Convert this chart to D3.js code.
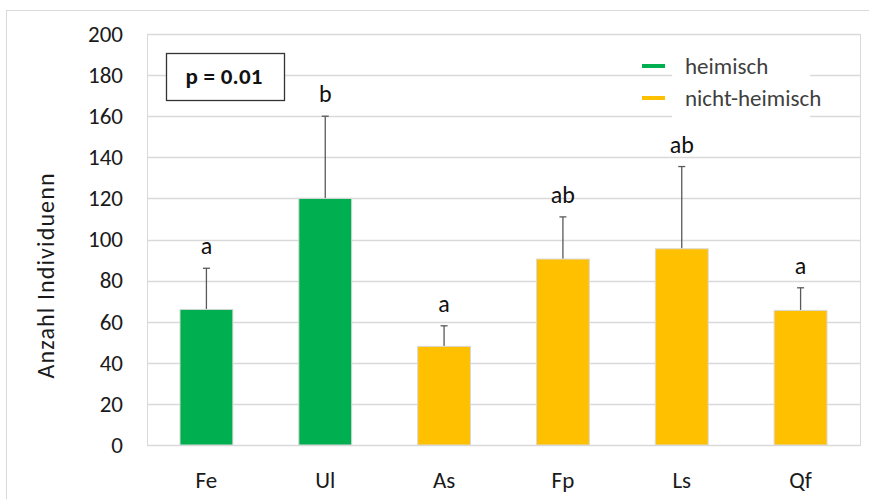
<!doctype html>
<html lang="de">
<head>
<meta charset="utf-8">
<title>Anzahl Individuen</title>
<script src="https://cdn.jsdelivr.net/npm/d3@7"></script>
<style>
  body { margin: 0; background: #fff; }
  text { font-family: Carlito, Lato, "Open Sans", sans-serif; }
</style>
</head>
<body>
<script>
// chart data
var categories = ["Fe", "Ul", "As", "Fp", "Ls", "Qf"];
var means = [66, 120, 48, 90.5, 95.5, 65.5];
var errors = [20, 40, 10, 20.5, 40, 11];
var groups = ["heimisch", "heimisch", "nicht-heimisch", "nicht-heimisch", "nicht-heimisch", "nicht-heimisch"];
var letters = ["a", "b", "a", "ab", "ab", "a"];
var yTicks = [0, 20, 40, 60, 80, 100, 120, 140, 160, 180, 200];
var legendLabels = ["heimisch", "nicht-heimisch"];

var width = 869, height = 499;
var margin = { top: 34, right: 9, bottom: 54, left: 147 };

var svg = d3.select("body").append("svg")
    .attr("width", width)
    .attr("height", height);

// outer chart border (only top/left are visible in the picture)
svg.append("rect")
    .attr("x", 6.5).attr("y", 10.5)
    .attr("width", 880).attr("height", 520)
    .attr("fill", "none")
    .attr("stroke", "#d9d9d9");

var x = d3.scaleBand()
    .domain(categories)
    .range([margin.left, width - margin.right])
    .paddingInner(0.555)
    .paddingOuter(0.2775);

var y = d3.scaleLinear()
    .domain([0, 200])
    .range([height - margin.bottom, margin.top]);

var color = d3.scaleOrdinal()
    .domain(legendLabels)
    .range(["#00b050", "#ffc000"]);

// plot area border
svg.append("rect")
    .attr("x", margin.left + 0.5).attr("y", margin.top + 0.5)
    .attr("width", width - margin.right - margin.left)
    .attr("height", height - margin.bottom - margin.top)
    .attr("fill", "none")
    .attr("stroke", "#d9d9d9");

// gridlines
svg.append("g")
    .selectAll("line")
    .data(yTicks)
    .enter()
    .append("line")
    .attr("x1", margin.left)
    .attr("x2", width - margin.right)
    .attr("y1", function(d) { return Math.round(y(d)) + 0.5; })
    .attr("y2", function(d) { return Math.round(y(d)) + 0.5; })
    .attr("stroke", "#d9d9d9")
    .attr("stroke-width", 1.5);

// y axis labels
var yAxis = d3.axisLeft(y).tickValues(yTicks).tickSize(0).tickPadding(24);
var gy = svg.append("g")
    .attr("transform", "translate(" + margin.left + ",0)")
    .call(yAxis);
gy.select(".domain").remove();
gy.selectAll("text")
    .attr("font-size", "23px")
    .attr("fill", "#1a1a1a");

// x axis labels
var xAxis = d3.axisBottom(x).tickSize(0).tickPadding(27);
var gx = svg.append("g")
    .attr("transform", "translate(0," + (height - margin.bottom) + ")")
    .call(xAxis);
gx.select(".domain").remove();
gx.selectAll("text")
    .attr("font-size", "23px")
    .attr("fill", "#1a1a1a");

// y axis title
svg.append("text")
    .attr("transform", "translate(54,276) rotate(-90)")
    .attr("text-anchor", "middle")
    .attr("font-size", "24px")
    .attr("textLength", 205)
    .attr("lengthAdjust", "spacing")
    .attr("fill", "#1a1a1a")
    .text("Anzahl Individuenn");

// legend background hides gridlines
svg.append("rect")
    .attr("x", 672).attr("y", 50)
    .attr("width", 138).attr("height", 72)
    .attr("fill", "#fff");

// error bars (upper only)
var err = svg.append("g");
categories.forEach(function(c, i) {
    var cx = x(c) + x.bandwidth() / 2;
    err.append("line")
        .attr("x1", cx).attr("x2", cx)
        .attr("y1", y(means[i]))
        .attr("y2", y(means[i] + errors[i]))
        .attr("stroke", "#595959")
        .attr("stroke-width", 1.3);
    err.append("line")
        .attr("x1", cx - 3.5).attr("x2", cx + 3.5)
        .attr("y1", y(means[i] + errors[i]))
        .attr("y2", y(means[i] + errors[i]))
        .attr("stroke", "#595959")
        .attr("stroke-width", 1.3);
});

// bars
svg.append("g")
    .selectAll("rect")
    .data(categories)
    .enter()
    .append("rect")
    .attr("x", function(d) { return x(d); })
    .attr("y", function(d, i) { return y(means[i]); })
    .attr("width", x.bandwidth())
    .attr("height", function(d, i) { return y(0) - y(means[i]); })
    .attr("fill", function(d, i) { return color(groups[i]); })
    .attr("stroke", "#d9d9d9")
    .attr("stroke-width", 1);

// significance letters
svg.append("g")
    .selectAll("text")
    .data(categories)
    .enter()
    .append("text")
    .attr("x", function(d) { return x(d) + x.bandwidth() / 2; })
    .attr("y", function(d, i) { return y(means[i] + errors[i]) - 14; })
    .attr("text-anchor", "middle")
    .attr("font-size", "24px")
    .attr("fill", "#111")
    .text(function(d, i) { return letters[i]; });

// p-value box
svg.append("rect")
    .attr("x", 166.5).attr("y", 53.5)
    .attr("width", 118).attr("height", 47)
    .attr("fill", "#fff")
    .attr("stroke", "#333")
    .attr("stroke-width", 1.3);
svg.append("text")
    .attr("x", 224).attr("y", 84)
    .attr("text-anchor", "middle")
    .attr("font-size", "23px")
    .attr("font-weight", "bold")
    .attr("textLength", 77)
    .attr("lengthAdjust", "spacing")
    .attr("fill", "#111")
    .text("p = 0.01");

// legend
var legend = svg.append("g")
    .selectAll("g")
    .data(legendLabels)
    .enter()
    .append("g")
    .attr("transform", function(d, i) { return "translate(642," + (66 + i * 32) + ")"; });
legend.append("line")
    .attr("x1", 0).attr("x2", 23)
    .attr("stroke", function(d) { return color(d); })
    .attr("stroke-width", 4);
legend.append("text")
    .attr("x", 43).attr("y", 7.5)
    .attr("font-size", "23px")
    .attr("fill", "#404040")
    .text(function(d) { return d; });
</script>
</body>
</html>
